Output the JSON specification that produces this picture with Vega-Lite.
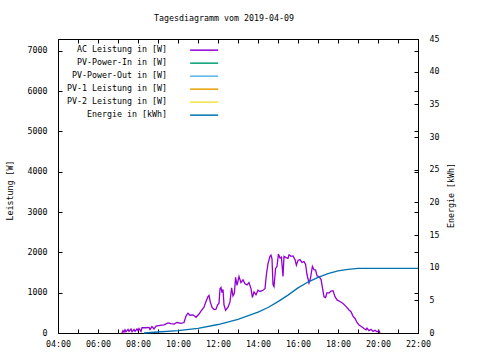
{
  "$schema": "https://vega.github.io/schema/vega-lite/v6.json",
  "width": 360,
  "height": 294,
  "autosize": "none",
  "padding": {"left": 58, "top": 39, "right": 62, "bottom": 27},
  "background": "white",
  "title": {"text": "Tagesdiagramm vom 2019-04-09", "font": "DejaVu Sans Mono", "fontSize": 8.3, "fontWeight": "normal", "offset": 12, "dx": -14, "color": "black"},
  "config": {
    "view": {"stroke": null},
    "axis": {"labelFont": "DejaVu Sans Mono", "labelFontSize": 8.3, "labelColor": "black", "tickColor": "black", "domainColor": "black", "tickSize": -4, "grid": false, "titleFont": "DejaVu Sans Mono", "titleFontSize": 8.3, "titleFontWeight": "normal", "titleColor": "black", "labelOverlap": false, "labelFlush": false},
    "legend": {"labelFont": "DejaVu Sans Mono", "labelFontSize": 8.3, "labelColor": "black"}
  },
  "datasets": {
    "ac": [
      {"hour": 7.20, "watt": 0}, {"hour": 7.25, "watt": 60}, {"hour": 7.30, "watt": 20}, {"hour": 7.35, "watt": 80}, {"hour": 7.40, "watt": 30}, {"hour": 7.50, "watt": 90}, {"hour": 7.55, "watt": 40}, {"hour": 7.65, "watt": 100}, {"hour": 7.70, "watt": 30}, {"hour": 7.80, "watt": 90}, {"hour": 7.85, "watt": 40}, {"hour": 7.95, "watt": 100}, {"hour": 8.00, "watt": 60}, {"hour": 8.05, "watt": 110}, {"hour": 8.15, "watt": 40}, {"hour": 8.20, "watt": 130}, {"hour": 8.40, "watt": 130}, {"hour": 8.55, "watt": 140}, {"hour": 8.60, "watt": 90}, {"hour": 8.70, "watt": 160}, {"hour": 8.80, "watt": 100}, {"hour": 8.90, "watt": 170}, {"hour": 9.10, "watt": 190}, {"hour": 9.30, "watt": 200}, {"hour": 9.50, "watt": 250}, {"hour": 9.65, "watt": 230}, {"hour": 9.80, "watt": 220}, {"hour": 9.95, "watt": 260}, {"hour": 10.15, "watt": 240}, {"hour": 10.30, "watt": 260}, {"hour": 10.40, "watt": 420}, {"hour": 10.50, "watt": 490}, {"hour": 10.60, "watt": 440}, {"hour": 10.75, "watt": 450}, {"hour": 10.90, "watt": 390}, {"hour": 11.05, "watt": 470}, {"hour": 11.15, "watt": 540}, {"hour": 11.30, "watt": 640}, {"hour": 11.40, "watt": 780}, {"hour": 11.50, "watt": 900}, {"hour": 11.55, "watt": 930}, {"hour": 11.62, "watt": 760}, {"hour": 11.70, "watt": 640}, {"hour": 11.80, "watt": 580}, {"hour": 11.90, "watt": 590}, {"hour": 11.98, "watt": 700}, {"hour": 12.05, "watt": 740}, {"hour": 12.10, "watt": 1100}, {"hour": 12.15, "watt": 1130}, {"hour": 12.20, "watt": 1000}, {"hour": 12.25, "watt": 1080}, {"hour": 12.30, "watt": 700}, {"hour": 12.38, "watt": 560}, {"hour": 12.50, "watt": 640}, {"hour": 12.60, "watt": 770}, {"hour": 12.68, "watt": 1120}, {"hour": 12.75, "watt": 920}, {"hour": 12.82, "watt": 990}, {"hour": 12.88, "watt": 1380}, {"hour": 12.95, "watt": 1180}, {"hour": 13.05, "watt": 1400}, {"hour": 13.15, "watt": 1250}, {"hour": 13.25, "watt": 1320}, {"hour": 13.35, "watt": 1220}, {"hour": 13.45, "watt": 1190}, {"hour": 13.55, "watt": 1250}, {"hour": 13.65, "watt": 1100}, {"hour": 13.72, "watt": 880}, {"hour": 13.80, "watt": 1020}, {"hour": 13.90, "watt": 950}, {"hour": 14.00, "watt": 1060}, {"hour": 14.10, "watt": 1030}, {"hour": 14.25, "watt": 1060}, {"hour": 14.35, "watt": 1100}, {"hour": 14.42, "watt": 1450}, {"hour": 14.50, "watt": 1720}, {"hour": 14.60, "watt": 1900}, {"hour": 14.65, "watt": 1930}, {"hour": 14.70, "watt": 1840}, {"hour": 14.75, "watt": 1200}, {"hour": 14.80, "watt": 1150}, {"hour": 14.88, "watt": 1600}, {"hour": 14.95, "watt": 1650}, {"hour": 15.02, "watt": 1960}, {"hour": 15.10, "watt": 1860}, {"hour": 15.17, "watt": 1880}, {"hour": 15.25, "watt": 1400}, {"hour": 15.30, "watt": 1900}, {"hour": 15.40, "watt": 1870}, {"hour": 15.50, "watt": 1850}, {"hour": 15.55, "watt": 1940}, {"hour": 15.65, "watt": 1900}, {"hour": 15.75, "watt": 1910}, {"hour": 15.85, "watt": 1820}, {"hour": 15.92, "watt": 1680}, {"hour": 16.00, "watt": 1800}, {"hour": 16.10, "watt": 1820}, {"hour": 16.20, "watt": 1750}, {"hour": 16.30, "watt": 1770}, {"hour": 16.38, "watt": 1700}, {"hour": 16.45, "watt": 1450}, {"hour": 16.55, "watt": 1240}, {"hour": 16.62, "watt": 1350}, {"hour": 16.72, "watt": 1650}, {"hour": 16.80, "watt": 1570}, {"hour": 16.88, "watt": 1560}, {"hour": 16.95, "watt": 1420}, {"hour": 17.05, "watt": 1400}, {"hour": 17.15, "watt": 1330}, {"hour": 17.22, "watt": 1130}, {"hour": 17.30, "watt": 900}, {"hour": 17.38, "watt": 880}, {"hour": 17.45, "watt": 1000}, {"hour": 17.55, "watt": 990}, {"hour": 17.65, "watt": 1040}, {"hour": 17.75, "watt": 1050}, {"hour": 17.85, "watt": 900}, {"hour": 17.95, "watt": 820}, {"hour": 18.10, "watt": 780}, {"hour": 18.25, "watt": 730}, {"hour": 18.40, "watt": 660}, {"hour": 18.55, "watt": 570}, {"hour": 18.65, "watt": 530}, {"hour": 18.75, "watt": 420}, {"hour": 18.85, "watt": 360}, {"hour": 18.95, "watt": 260}, {"hour": 19.05, "watt": 200}, {"hour": 19.20, "watt": 150}, {"hour": 19.30, "watt": 110}, {"hour": 19.40, "watt": 80}, {"hour": 19.45, "watt": 120}, {"hour": 19.55, "watt": 60}, {"hour": 19.65, "watt": 90}, {"hour": 19.75, "watt": 40}, {"hour": 19.85, "watt": 70}, {"hour": 19.95, "watt": 30}, {"hour": 20.05, "watt": 60}, {"hour": 20.10, "watt": 0}
    ],
    "energy": [
      {"hour": 8.3, "kwh": 0.0}, {"hour": 9.0, "kwh": 0.15}, {"hour": 10.0, "kwh": 0.35}, {"hour": 11.0, "kwh": 0.7}, {"hour": 12.0, "kwh": 1.3}, {"hour": 13.0, "kwh": 2.1}, {"hour": 14.0, "kwh": 3.2}, {"hour": 14.5, "kwh": 3.9}, {"hour": 15.0, "kwh": 4.8}, {"hour": 15.5, "kwh": 5.8}, {"hour": 16.0, "kwh": 6.9}, {"hour": 16.5, "kwh": 7.8}, {"hour": 17.0, "kwh": 8.5}, {"hour": 17.5, "kwh": 9.1}, {"hour": 18.0, "kwh": 9.5}, {"hour": 18.5, "kwh": 9.75}, {"hour": 19.0, "kwh": 9.9}, {"hour": 22.0, "kwh": 9.9}
    ]
  },
  "layer": [
    {
      "data": {"name": "ac"},
      "mark": {"type": "line", "strokeWidth": 1.3},
      "encoding": {
        "x": {"field": "hour", "type": "quantitative", "scale": {"domain": [4, 22], "nice": false, "zero": false},
          "axis": {"orient": "bottom", "title": null, "values": [4,5,6,7,8,9,10,11,12,13,14,15,16,17,18,19,20,21,22], "labelPadding": 10, "labelExpr": "datum.value % 2 == 0 ? (datum.value < 10 ? '0' : '') + datum.value + ':00' : ''"}},
        "y": {"field": "watt", "type": "quantitative", "scale": {"domain": [0, 7290], "nice": false},
          "axis": {"orient": "left", "title": "Leistung [W]", "format": "d", "values": [0,1000,2000,3000,4000,5000,6000,7000], "labelPadding": 15, "titleX": -48, "titleY": 151, "titleAngle": -90, "titleBaseline": "middle", "titleAlign": "center"}},
        "color": {"datum": "AC Leistung in [W]", "type": "nominal",
          "scale": {"domain": ["AC Leistung in [W]", "PV-Power-In in [W]", "PV-Power-Out in [W]", "PV-1 Leistung in [W]", "PV-2 Leistung in [W]", "Energie in [kWh]"], "range": ["#9400d3", "#009e73", "#56b4e9", "#e69f00", "#f0e442", "#0072b2"]},
          "legend": {"orient": "none", "legendX": 128, "legendY": 7, "title": null, "symbolType": "M0,0H10", "symbolSize": 31.4, "symbolStrokeWidth": 1.5, "rowPadding": 4, "encode": {"labels": {"update": {"x": {"value": -19}, "align": {"value": "right"}}}}}}
      }
    },
    {
      "data": {"name": "energy"},
      "mark": {"type": "line", "strokeWidth": 1.3},
      "encoding": {
        "x": {"field": "hour", "type": "quantitative", "scale": {"domain": [4, 22], "nice": false, "zero": false},
          "axis": {"orient": "top", "title": null, "labels": false, "values": [4,5,6,7,8,9,10,11,12,13,14,15,16,17,18,19,20,21,22]}},
        "y": {"field": "kwh", "type": "quantitative", "scale": {"domain": [0, 45], "nice": false},
          "axis": {"orient": "right", "title": "Energie [kWh]", "format": "d", "values": [0,5,10,15,20,25,30,35,40,45], "labelPadding": 15, "titleX": 33, "titleY": 156, "titleAngle": -90, "titleBaseline": "middle", "titleAlign": "center"}},
        "color": {"datum": "Energie in [kWh]", "type": "nominal"}
      }
    },
    {
      "data": {"name": "ac"},
      "mark": {"type": "line", "opacity": 0},
      "encoding": {
        "x": {"field": "hour", "type": "quantitative", "scale": {"domain": [4, 22], "nice": false, "zero": false}, "axis": null},
        "y": {"field": "watt", "type": "quantitative", "scale": {"domain": [0, 7290], "nice": false},
          "axis": {"orient": "right", "title": null, "labels": false, "domain": false, "values": [0,1000,2000,3000,4000,5000,6000,7000]}}
      }
    }
  ],
  "resolve": {"scale": {"y": "independent"}, "axis": {"x": "independent"}}
}
